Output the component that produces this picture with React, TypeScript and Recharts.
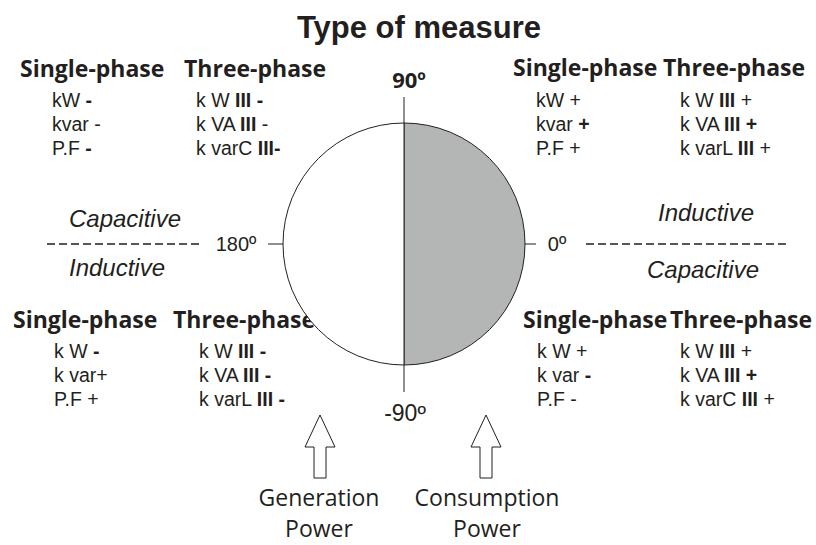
import React from 'react';
import { PieChart, Pie, Cell, Customized } from 'recharts';

// two half-plane sectors: right = consumption (shaded), left = generation
const halves = [
  { name: 'Consumption', value: 180 },
  { name: 'Generation', value: 180 },
];
const halfColors = ['#b4b6b6', '#ffffff'];

const title = 'Type of measure';
const headings = ['Single-phase', 'Three-phase'];

// '*' wraps bold parts
const topLeftSingle = ['kW *-*', 'kvar -', 'P.F *-*'];
const topLeftThree = ['k W *III* *-*', 'k VA *III* -', 'k varC *III-*'];
const topRightSingle = ['kW +', 'kvar *+*', 'P.F +'];
const topRightThree = ['k W *III* +', 'k VA *III* *+*', 'k varL *III* +'];
const bottomLeftSingle = ['k W *-*', 'k var+', 'P.F +'];
const bottomLeftThree = ['k W *III* *-*', 'k VA *III* *-*', 'k varL *III* *-*'];
const bottomRightSingle = ['k W +', 'k var *-*', 'P.F -'];
const bottomRightThree = ['k W *III* +', 'k VA *III* *+*', 'k varC *III* +'];

const angleLabels = ['90º', '180º', '0º', '-90º'];
const loadLabels = ['Capacitive', 'Inductive'];
const powerLabels = [['Generation', 'Power'], ['Consumption', 'Power']];

const W = 816;
const H = 545;
const CX = 404;
const CY = 244;
const R = 121;

const HEAD_FONT = '"Open Sans", sans-serif';
const BODY_FONT = '"Liberation Sans", Arial, sans-serif';

function Rich({ x, y, text }: { x: number; y: number; text: string }) {
  const parts = text.split('*');
  return (
    <text x={x} y={y} fontFamily={BODY_FONT} fontSize={19.5} fill="#231f20">
      {parts.map((p, i) => (
        <tspan key={i} fontWeight={i % 2 === 1 ? 'bold' : 'normal'}>
          {p}
        </tspan>
      ))}
    </text>
  );
}

function Block({
  sx, tx, hsx, htx, hy, rows, single, three,
}: {
  sx: number; tx: number; hsx: number; htx: number; hy: number; rows: number[];
  single: string[]; three: string[];
}) {
  return (
    <g>
      <text x={hsx} y={hy} fontFamily={HEAD_FONT} fontWeight="bold" fontSize={23} fill="#231f20">
        {headings[0]}
      </text>
      <text x={htx} y={hy} fontFamily={HEAD_FONT} fontWeight="bold" fontSize={23} fill="#231f20">
        {headings[1]}
      </text>
      {single.map((s, i) => <Rich key={'s' + i} x={sx} y={rows[i]} text={s} />)}
      {three.map((s, i) => <Rich key={'t' + i} x={tx} y={rows[i]} text={s} />)}
    </g>
  );
}

function Arrow({ x }: { x: number }) {
  const top = 415, base = 447, bottom = 478, hw = 15, sw = 6;
  const d = `M${x} ${top} L${x + hw} ${base} L${x + sw} ${base} L${x + sw} ${bottom} L${x - sw} ${bottom} L${x - sw} ${base} L${x - hw} ${base} Z`;
  return <path d={d} fill="#fff" stroke="#231f20" strokeWidth={1} />;
}

function Overlay() {
  const topRows = [107, 131, 155];
  const bottomRows = [358, 382, 406];
  return (
    <g>
      <text x={419} y={38} textAnchor="middle" fontFamily={BODY_FONT} fontWeight="bold" fontSize={31} fill="#231f20">
        {title}
      </text>

      {/* axes */}
      <line x1={CX} y1={97} x2={CX} y2={392} stroke="#231f20" strokeWidth={1} />
      <line x1={268} y1={CY} x2={536} y2={CY} stroke="#231f20" strokeWidth={1} />
      <line x1={47} y1={CY} x2={203} y2={CY} stroke="#231f20" strokeWidth={1.3} strokeDasharray="8 4" />
      <line x1={586} y1={CY} x2={790} y2={CY} stroke="#231f20" strokeWidth={1.3} strokeDasharray="8 4" />

      <text x={409} y={88} textAnchor="middle" fontFamily={HEAD_FONT} fontWeight="bold" fontSize={22} fill="#231f20">
        {angleLabels[0]}
      </text>
      <text x={236} y={251} textAnchor="middle" fontFamily={BODY_FONT} fontSize={20} fill="#231f20">
        {angleLabels[1]}
      </text>
      <text x={557} y={251} textAnchor="middle" fontFamily={BODY_FONT} fontSize={20} fill="#231f20">
        {angleLabels[2]}
      </text>
      <text x={405} y={421} textAnchor="middle" fontFamily={BODY_FONT} fontSize={23} fill="#231f20">
        {angleLabels[3]}
      </text>

      <g fontFamily={BODY_FONT} fontStyle="italic" fontSize={24} fill="#231f20">
        <text x={125} y={227} textAnchor="middle">{loadLabels[0]}</text>
        <text x={117} y={276} textAnchor="middle">{loadLabels[1]}</text>
        <text x={706} y={221} textAnchor="middle">{loadLabels[1]}</text>
        <text x={703} y={278} textAnchor="middle">{loadLabels[0]}</text>
      </g>

      <Block hsx={20} htx={184} sx={52} tx={196} hy={77} rows={topRows} single={topLeftSingle} three={topLeftThree} />
      <Block hsx={513} htx={663} sx={536} tx={680} hy={76} rows={topRows} single={topRightSingle} three={topRightThree} />
      <Block hsx={13} htx={173} sx={54} tx={199} hy={328} rows={bottomRows} single={bottomLeftSingle} three={bottomLeftThree} />
      <Block hsx={523} htx={670} sx={537} tx={680} hy={328} rows={bottomRows} single={bottomRightSingle} three={bottomRightThree} />

      <Arrow x={320} />
      <Arrow x={486} />
      <g fontFamily={HEAD_FONT} fontSize={23} fill="#231f20" textAnchor="middle">
        <text x={319} y={506}>{powerLabels[0][0]}</text>
        <text x={319} y={537}>{powerLabels[0][1]}</text>
        <text x={487} y={506}>{powerLabels[1][0]}</text>
        <text x={487} y={537}>{powerLabels[1][1]}</text>
      </g>
    </g>
  );
}

export default function App() {
  return (
    <div style={{ position: 'absolute', left: 0, top: 0, width: W, height: H, background: '#fff' }}>
      <PieChart width={W} height={H} margin={{ top: 0, right: 0, bottom: 0, left: 0 }}>
        <Pie
          data={halves}
          dataKey="value"
          nameKey="name"
          cx={CX}
          cy={CY}
          outerRadius={R}
          startAngle={90}
          endAngle={-270}
          stroke="#231f20"
          strokeWidth={1}
          label={false}
          labelLine={false}
          isAnimationActive={false}
        >
          {halves.map((h, i) => (
            <Cell key={h.name} fill={halfColors[i]} />
          ))}
        </Pie>
        <Customized component={<Overlay />} />
      </PieChart>
    </div>
  );
}
